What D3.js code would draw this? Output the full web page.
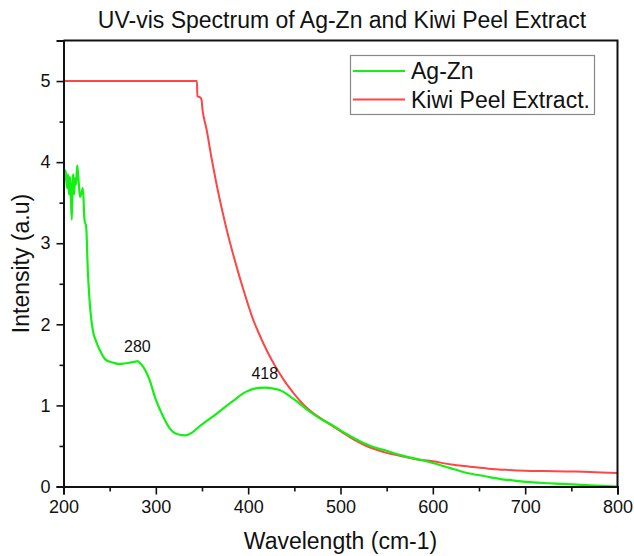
<!DOCTYPE html>
<html>
<head>
<meta charset="utf-8">
<script src="https://cdn.jsdelivr.net/npm/d3@7/dist/d3.min.js"></script>
<style>
  html, body { margin: 0; padding: 0; background: #fff; }
  svg { display: block; font-family: "Liberation Sans", Arial, sans-serif; }
</style>
</head>
<body>
<svg id="chart" width="634" height="556"></svg>
<script>
// Ag-Zn nanoparticle absorbance (wavelength nm, intensity)
const agZnWave = [200, 201, 202, 203, 204, 205, 206, 207, 208, 209, 209.8, 210.6, 211.5, 212.5, 213.5, 214.8, 215.8, 216.8, 218, 219.5, 221, 222.7, 224.6, 226.3, 228.2, 231.7, 235, 239, 246, 253, 260, 267, 274, 278, 280, 283, 286, 293, 300, 307.6, 314.8, 322, 332, 340, 347, 365, 383, 398, 408, 418, 426, 434, 448, 466, 482, 492, 506, 520, 535, 550, 564, 582, 600, 618, 636, 655, 672, 690, 708, 726, 744, 770, 800];
const agZnValue = [3.35, 3.85, 3.9, 3.82, 3.68, 3.85, 3.6, 3.82, 3.55, 3.29, 3.78, 3.85, 3.6, 3.8, 3.72, 3.96, 3.85, 3.7, 3.57, 3.62, 3.68, 3.29, 3.2, 2.67, 2.3, 1.93, 1.8, 1.69, 1.56, 1.53, 1.51, 1.52, 1.53, 1.54, 1.545, 1.52, 1.48, 1.32, 1.07, 0.87, 0.72, 0.65, 0.63, 0.67, 0.74, 0.89, 1.05, 1.17, 1.21, 1.22, 1.21, 1.19, 1.09, 0.93, 0.81, 0.75, 0.65, 0.565, 0.49, 0.44, 0.39, 0.34, 0.29, 0.23, 0.17, 0.13, 0.095, 0.07, 0.05, 0.04, 0.03, 0.015, 0.0];

// Kiwi peel extract absorbance (saturates at 5 below ~345 nm)
const kiwiWave = [200, 344.5, 345, 348, 349.5, 350.5, 352, 355, 360, 365, 370, 375, 380, 385, 390, 395, 400, 405, 410, 420, 430, 440, 450, 460, 470, 480, 495, 510, 520, 530, 540, 550, 564, 580, 600, 620, 640, 660, 680, 700, 720, 744, 770, 800];
const kiwiValue = [5.0, 5.0, 4.81, 4.80, 4.77, 4.65, 4.55, 4.40, 4.07, 3.77, 3.50, 3.25, 3.02, 2.81, 2.61, 2.42, 2.24, 2.07, 1.93, 1.68, 1.47, 1.29, 1.14, 1.01, 0.91, 0.83, 0.72, 0.61, 0.545, 0.49, 0.45, 0.415, 0.38, 0.34, 0.31, 0.27, 0.245, 0.22, 0.205, 0.195, 0.19, 0.185, 0.18, 0.165];

const seriesNames = ["Ag-Zn", "Kiwi Peel Extract."];
const peakLabels = [280, 418];
const xTicks = [200, 300, 400, 500, 600, 700, 800];
const yTicks = [0, 1, 2, 3, 4, 5];

const svg = d3.select("#chart");
const plotLeft = 63.5, plotRight = 617.5, plotTop = 40.5, plotBottom = 486.5;

const x = d3.scaleLinear().domain([200, 800]).range([plotLeft, plotRight]);
const y = d3.scaleLinear().domain([0, 5.5]).range([plotBottom, plotTop]);

const green = "#14f014";
const red = "#ff4545";

// clip region for the curves
svg.append("defs").append("clipPath").attr("id", "plotClip")
  .append("rect").attr("x", plotLeft).attr("y", plotTop)
  .attr("width", plotRight - plotLeft).attr("height", plotBottom - plotTop);

const line = d3.line()
  .x(d => x(d[0])).y(d => y(d[1]))
  .curve(d3.curveMonotoneX);

const agZn = agZnWave.map((w, i) => [w, agZnValue[i]]);
const kiwi = kiwiWave.map((w, i) => [w, kiwiValue[i]]);

const plot = svg.append("g").attr("clip-path", "url(#plotClip)");
plot.append("path").datum(kiwi).attr("d", line)
  .attr("fill", "none").attr("stroke", red).attr("stroke-width", 2);
plot.append("path").datum(agZn).attr("d", line)
  .attr("fill", "none").attr("stroke", green).attr("stroke-width", 2.2);

// peak annotations
const peakValue = w => agZnValue[agZnWave.indexOf(w)];
svg.selectAll("text.peak").data(peakLabels).enter().append("text")
  .attr("class", "peak")
  .attr("x", d => x(d))
  .attr("y", d => y(peakValue(d)) - 9)
  .attr("text-anchor", "middle")
  .attr("font-size", 16)
  .attr("fill", "#111")
  .text(d => d);

// axes
const xAxis = d3.axisBottom(x).tickValues(xTicks).tickSize(8).tickPadding(6).tickFormat(d3.format("d"));
const xMinor = d3.axisBottom(x).tickValues(d3.range(250, 800, 100)).tickSize(5).tickFormat("");
const yAxis = d3.axisLeft(y).tickValues(yTicks).tickSize(7).tickPadding(6).tickFormat(d3.format("d"));
const yMinor = d3.axisLeft(y).tickValues(d3.range(0.5, 5.5, 1)).tickSize(4).tickFormat("");

function styleAxis(g) {
  g.selectAll("path.domain").attr("stroke", "#111").attr("stroke-width", 2);
  g.selectAll(".tick line").attr("stroke", "#111").attr("stroke-width", 1.6);
  g.selectAll(".tick text").attr("font-size", 18).attr("fill", "#111")
    .attr("font-family", "'Liberation Sans', Arial, sans-serif");
}

svg.append("g").attr("transform", `translate(0,${plotBottom})`).call(xMinor).call(styleAxis);
svg.append("g").attr("transform", `translate(0,${plotBottom})`).call(xAxis).call(styleAxis);
svg.append("g").attr("transform", `translate(${plotLeft},0)`).call(yMinor).call(styleAxis);
svg.append("g").attr("transform", `translate(${plotLeft},0)`).call(yAxis).call(styleAxis);

// top and right frame
svg.append("path")
  .attr("d", `M${plotLeft},${plotTop}H${plotRight}V${plotBottom}`)
  .attr("fill", "none").attr("stroke", "#111").attr("stroke-width", 2);

// titles
svg.append("text").attr("x", 342).attr("y", 28).attr("text-anchor", "middle")
  .attr("font-size", 23).attr("fill", "#111")
  .text("UV-vis Spectrum of Ag-Zn and Kiwi Peel Extract");
svg.append("text").attr("x", (plotLeft + plotRight) / 2).attr("y", 549).attr("text-anchor", "middle")
  .attr("font-size", 23).attr("fill", "#111")
  .text("Wavelength (cm-1)");
svg.append("text")
  .attr("transform", `translate(29,${(plotTop + plotBottom) / 2}) rotate(-90)`)
  .attr("text-anchor", "middle")
  .attr("font-size", 23).attr("fill", "#111")
  .text("Intensity (a.u)");

// legend
const legend = svg.append("g");
legend.append("rect").attr("x", 350.5).attr("y", 55.5).attr("width", 244).attr("height", 59)
  .attr("fill", "#fff").attr("stroke", "#888").attr("stroke-width", 1.2);
const legendColors = [green, red];
seriesNames.forEach((name, i) => {
  const ly = 71 + i * 28.5;
  legend.append("line").attr("x1", 353).attr("x2", 405).attr("y1", ly).attr("y2", ly)
    .attr("stroke", legendColors[i]).attr("stroke-width", 2.2);
  legend.append("text").attr("x", 411).attr("y", ly + 8)
    .attr("font-size", 23).attr("fill", "#111").text(name);
});
</script>
</body>
</html>
